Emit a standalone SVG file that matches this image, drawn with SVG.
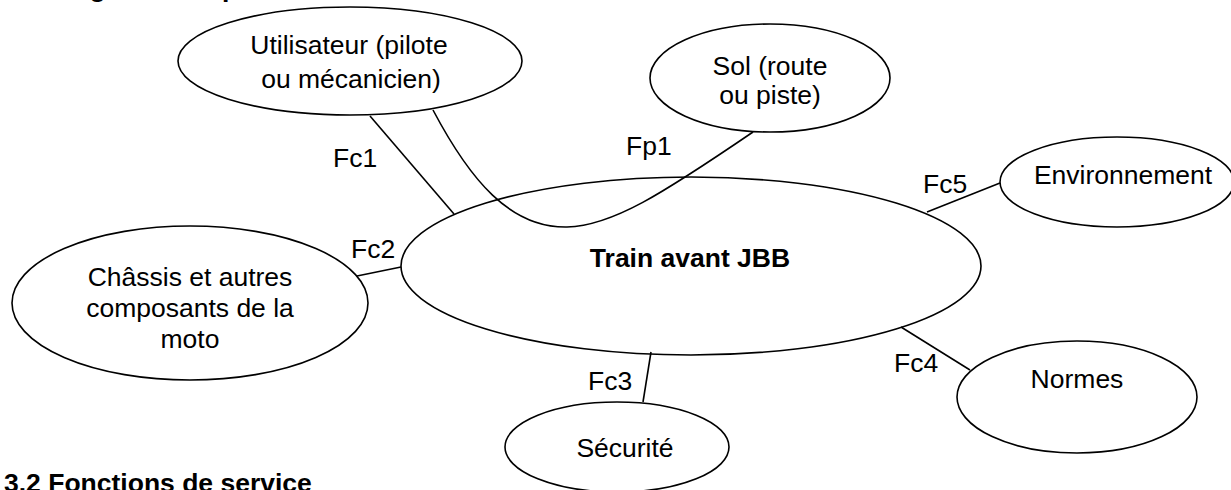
<svg xmlns="http://www.w3.org/2000/svg" width="1231" height="490" viewBox="0 0 1231 490">
  <style>
    .node { fill: #ffffff; stroke: #000000; stroke-width: 1.6; }
    .link { fill: none; stroke: #000000; stroke-width: 1.6; }
    text { font-family: "Liberation Sans", Arial, sans-serif; font-size: 26.5px; fill: #000000; }
    .c { text-anchor: middle; }
    .b { font-weight: bold; }
  </style>
  <rect x="0" y="0" width="1231" height="490" fill="#ffffff"/>

  <!-- section headings -->
  <text class="b" x="4" y="-3">3.1 Diagramme « pieuvre »</text>
  <text class="b" x="4" y="492">3.2 Fonctions de service</text>

  <!-- external elements and the studied system -->
  <g id="train">
    <ellipse class="node" cx="691" cy="266" rx="290" ry="89"/>
    <text class="c b" x="690" y="267">Train avant JBB</text>
  </g>
  <g id="utilisateur">
    <ellipse class="node" cx="350" cy="61" rx="172" ry="54"/>
    <text class="c" x="349" y="54">Utilisateur (pilote</text>
    <text class="c" x="351" y="88">ou mécanicien)</text>
  </g>
  <g id="sol">
    <ellipse class="node" cx="770" cy="78" rx="120" ry="54"/>
    <text class="c" x="770" y="75">Sol (route</text>
    <text class="c" x="770" y="104">ou piste)</text>
  </g>
  <g id="environnement">
    <ellipse class="node" cx="1117" cy="182" rx="117" ry="45"/>
    <text class="c" x="1123" y="184">Environnement</text>
  </g>
  <g id="chassis">
    <ellipse class="node" cx="190" cy="303" rx="178" ry="77"/>
    <text class="c" x="190" y="286">Châssis et autres</text>
    <text class="c" x="190" y="317">composants de la</text>
    <text class="c" x="190" y="348">moto</text>
  </g>
  <g id="normes">
    <ellipse class="node" cx="1077" cy="397" rx="120" ry="56"/>
    <text class="c" x="1077" y="388">Normes</text>
  </g>
  <g id="securite">
    <ellipse class="node" cx="617" cy="447" rx="112" ry="45"/>
    <text class="c" x="625" y="457">Sécurité</text>
  </g>

  <!-- functions linking the elements -->
  <g id="connectors">
    <path class="link" d="M433,110 C470,180 510,228 567,227 C612,226 662,194 753,132"/>
    <line class="link" x1="370" y1="116" x2="454" y2="214"/>
    <line class="link" x1="357" y1="276" x2="401" y2="267"/>
    <line class="link" x1="651" y1="352" x2="643" y2="402"/>
    <line class="link" x1="901" y1="327" x2="970" y2="370"/>
    <line class="link" x1="927" y1="212" x2="1000" y2="183"/>
  </g>

  <!-- function labels -->
  <g id="labels">
    <text x="626" y="155">Fp1</text>
    <text x="333" y="167">Fc1</text>
    <text x="351" y="258">Fc2</text>
    <text x="588" y="390">Fc3</text>
    <text x="894" y="372">Fc4</text>
    <text x="923" y="193">Fc5</text>
  </g>
</svg>
